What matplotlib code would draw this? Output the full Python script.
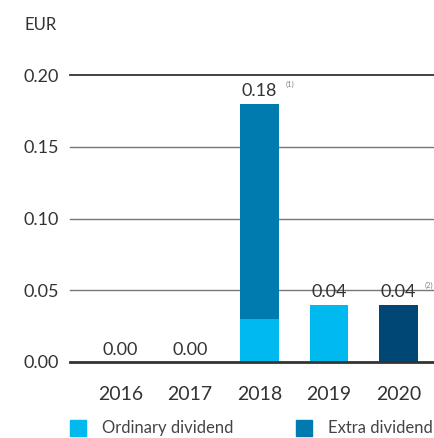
import matplotlib.pyplot as plt
import numpy as np

plt.rcParams['font.family'] = ['Lato', 'DejaVu Sans']

years = ['2016', '2017', '2018', '2019', '2020']
ordinary = [0.0, 0.0, 0.03, 0.04, 0.0]
extra = [0.0, 0.0, 0.15, 0.0, 0.0]
other = [0.0, 0.0, 0.0, 0.0, 0.04]
totals = ['0.00', '0.00', '0.18', '0.04', '0.04']
notes = ['', '', '(1)', '', '(2)']
yticks = [0.0, 0.05, 0.10, 0.15, 0.20]

c_light = '#00b9ee'
c_mid = '#007bb0'
c_dark = '#004775'
txt = '#333333'

fig = plt.figure(figsize=(4.35, 4.38), dpi=100)
ax = fig.add_axes([70 / 435, 1 - 362 / 438, 365 / 435, 287 / 438])

x = np.arange(len(years))
w = 0.56
ord_arr = np.array(ordinary)
ax.bar(x, ordinary, w, color=c_light, zorder=3)
ax.bar(x, extra, w, bottom=ord_arr, color=c_mid, zorder=3)
ax.bar(x, other, w, bottom=ord_arr + np.array(extra), color=c_dark, zorder=3)

for t in yticks:
    if t == 0.0:
        ax.axhline(t, color='#333333', lw=2.0, zorder=4, clip_on=False)
    elif t == 0.20:
        ax.axhline(t, color='#333333', lw=1.3, zorder=1, clip_on=False)
    else:
        ax.axhline(t, color='#777777', lw=1.0, zorder=1, clip_on=False)

tops = ord_arr + np.array(extra) + np.array(other)
for i in range(len(years)):
    ax.text(x[i], tops[i] + 0.003, totals[i], ha='center', va='bottom',
            fontsize=13, color=txt, zorder=5)
    if notes[i]:
        ax.text(x[i] + 0.38, tops[i] + 0.011, notes[i], ha='left', va='bottom',
                fontsize=5.5, color='#888888', zorder=5)

ax.set_xlim(-0.727, 4.525)
ax.set_ylim(0, 0.20)
ax.set_xticks(x)
ax.set_xticklabels(years, fontsize=14, color=txt)
ax.set_yticks(yticks)
ax.set_yticklabels(['%.2f' % t for t in yticks], fontsize=13, color=txt)
ax.tick_params(length=0, axis='x', pad=17)
ax.tick_params(length=0, axis='y', pad=8)
for s in ax.spines.values():
    s.set_visible(False)

fig.text(25 / 435, 1 - 25 / 438, 'EUR', fontsize=12, color=txt, va='center', ha='left')

# legend
sq = 16
for xs, col, label in [(70, c_light, 'Ordinary dividend'), (296, c_mid, 'Extra dividend')]:
    fig.add_artist(plt.Rectangle((xs / 435, 1 - 436 / 438), sq / 435, sq / 438,
                                 transform=fig.transFigure, color=col))
    fig.text((xs + 32) / 435, 1 - 428 / 438, label, fontsize=12, color='#444444',
             va='center', ha='left')

fig.savefig('out.png', dpi=100)
